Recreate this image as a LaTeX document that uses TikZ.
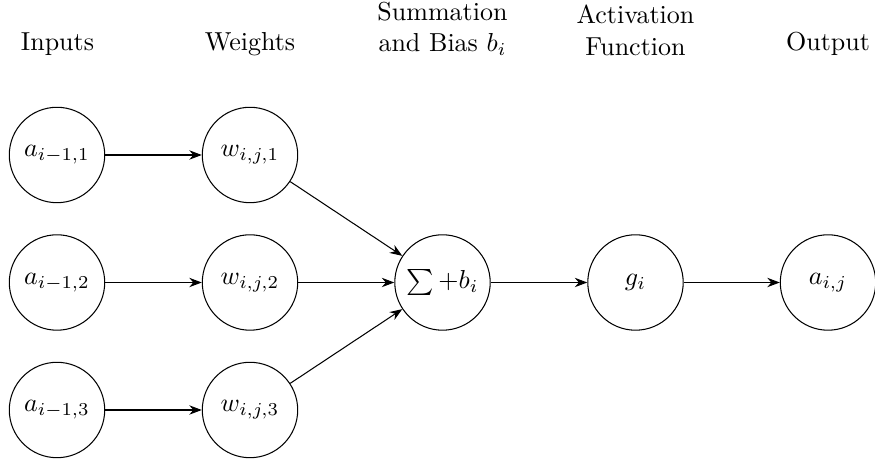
\documentclass[tikz,border=0pt]{standalone}
\usetikzlibrary{arrows.meta}
\begin{document}
\begin{tikzpicture}[x=0.38462pt,y=-0.38462pt,
  neuron/.style={draw,circle,minimum size=36.7pt,inner sep=0pt,line width=0.4pt},
  header/.style={anchor=south,inner sep=0pt,align=center},
  conn/.style={-Stealth,line width=0.4pt}]
\useasboundingbox (0,0) rectangle (875,464);
% headers
\node[header] (hin) at (57.5,56) {Inputs};
\node[header] (hw) at (250,56) {Weights};
\node[header] (hs) at (442.5,56) {Summation\\and Bias $b_i$};
\node[header] (ha) at (635.5,56) {Activation\\Function};
\node[header] (ho) at (828,56) {Output};
% nodes
\node[neuron] (a1) at (57,155) {$a_{i-1,1}$};
\node[neuron] (a2) at (57,282.5) {$a_{i-1,2}$};
\node[neuron] (a3) at (57,410) {$a_{i-1,3}$};
\node[neuron] (w1) at (250,155) {$w_{i,j,1}$};
\node[neuron] (w2) at (250,282.5) {$w_{i,j,2}$};
\node[neuron] (w3) at (250,410) {$w_{i,j,3}$};
\node[neuron] (s) at (442.5,282.5) {$\sum +b_i$};
\node[neuron] (g) at (635.5,282.5) {$g_i$};
\node[neuron] (o) at (828,282.5) {$a_{i,j}$};
% connectors
\draw[conn] (a1) -- (w1);
\draw[conn] (a2) -- (w2);
\draw[conn] (a3) -- (w3);
\draw[conn] (w1) -- (s);
\draw[conn] (w2) -- (s);
\draw[conn] (w3) -- (s);
\draw[conn] (s) -- (g);
\draw[conn] (g) -- (o);
\end{tikzpicture}
\end{document}
